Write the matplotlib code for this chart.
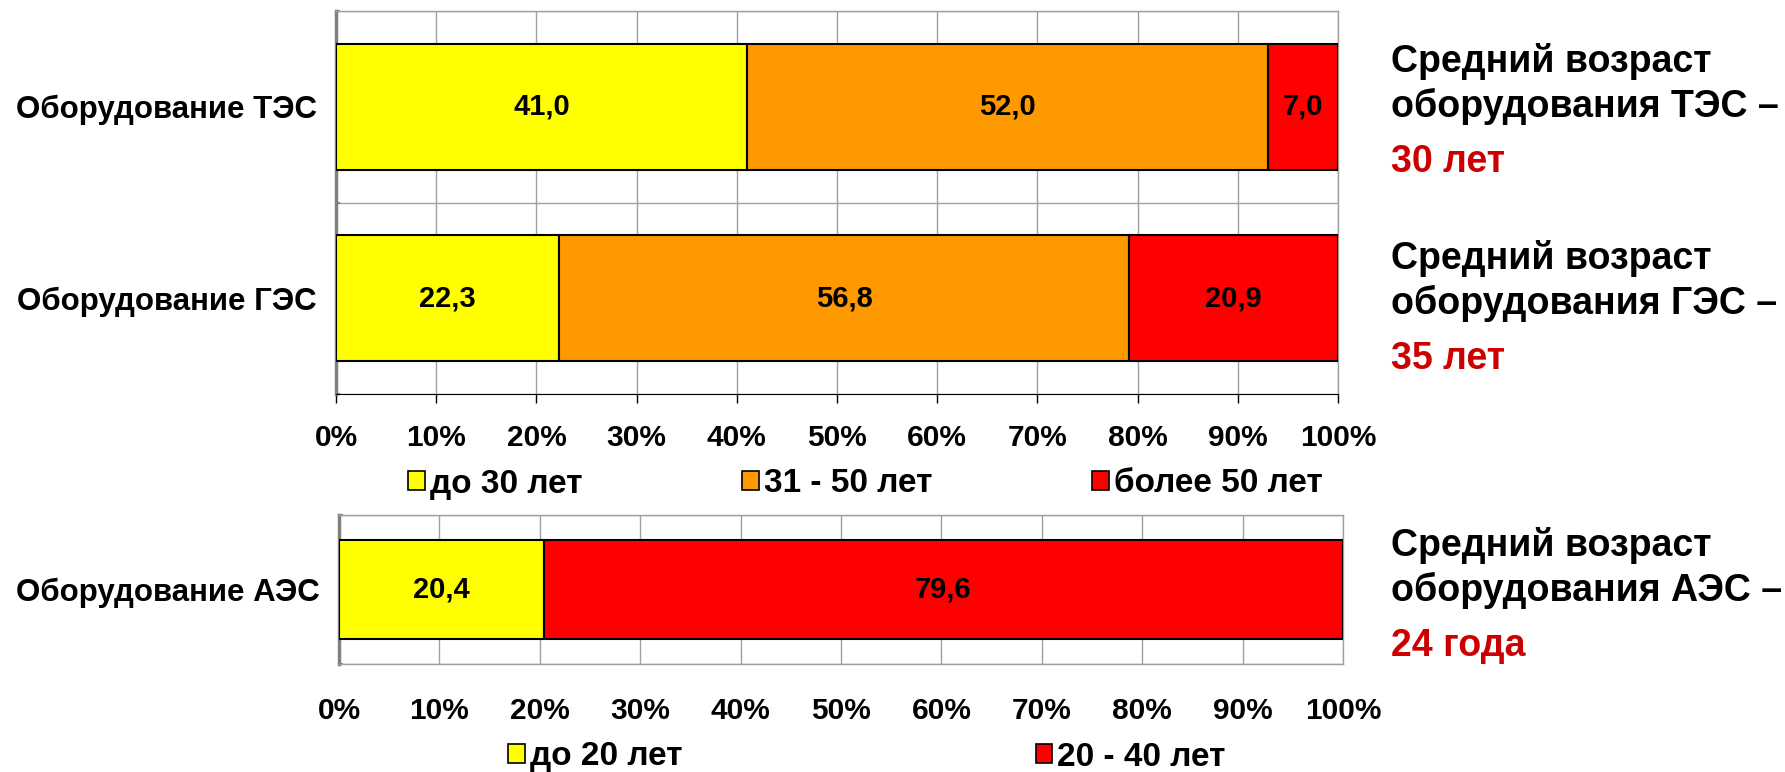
import matplotlib.pyplot as plt
from matplotlib.patches import Patch

plt.rcParams['font.family'] = ['Liberation Sans', 'DejaVu Sans']
plt.rcParams['font.weight'] = 'bold'

# ТЭС / ГЭС: доля оборудования по возрасту, %
plants_top = ['Оборудование ТЭС', 'Оборудование ГЭС']
groups_top = ['до 30 лет', '31 - 50 лет', 'более 50 лет']
young_top = [41.0, 22.3]
middle_top = [52.0, 56.8]
old_top = [7.0, 20.9]
avg_top = ['30 лет', '35 лет']

# АЭС
plants_bottom = ['Оборудование АЭС']
groups_bottom = ['до 20 лет', '20 - 40 лет']
young_bottom = [20.4]
old_bottom = [79.6]
avg_bottom = ['24 года']

ticks = list(range(0, 101, 10))
tick_labels = [f'{t}%' for t in ticks]

yellow, orange, red = '#FFFF00', '#FF9900', '#FF0000'
grey = '#808080'
W, H = 1785, 772

fig = plt.figure(figsize=(W / 100, H / 100), dpi=100)


def fmt(v):
    return f'{v:.1f}'.replace('.', ',')


def stacked(ax, names, series, colors):
    pos = list(range(len(names)))
    left = [0] * len(names)
    for vals, c in zip(series, colors):
        b = ax.barh(pos, vals, left=left, height=0.66, color=c,
                    edgecolor='black', linewidth=1.5, zorder=3)
        ax.bar_label(b, labels=[fmt(v) for v in vals], label_type='center',
                     fontsize=21, fontweight='bold', color='black')
        left = [l + v for l, v in zip(left, vals)]
    ax.set_xlim(0, 100)
    ax.set_ylim(len(names) - 0.5, -0.5)
    ax.set_xticks(ticks)
    ax.set_xticklabels(tick_labels, fontsize=21.5, fontweight='bold')
    ax.set_yticks(pos)
    ax.set_yticklabels(names, fontsize=22.5, fontweight='bold')
    ax.set_yticks([p - 0.5 for p in pos] + [len(names) - 0.5], minor=True)
    ax.tick_params(axis='y', which='major', length=0, pad=14)
    ax.tick_params(axis='y', which='minor', length=3, direction='in',
                   color=grey, width=1.5)
    ax.grid(axis='x', color='#A0A0A0', linewidth=1, zorder=0)
    ax.grid(axis='y', which='minor', color='#A0A0A0', linewidth=1, zorder=0)
    ax.spines['left'].set_color(grey)
    ax.spines['left'].set_linewidth(2.5)
    for s in ('top', 'right'):
        ax.spines[s].set_color('#A0A0A0')
        ax.spines[s].set_linewidth(1)


def add_legend(ax, colors, groups, x, y, spacing):
    ax.legend(handles=[Patch(facecolor=c, edgecolor='black', linewidth=1.2, label=g)
                       for c, g in zip(colors, groups)],
              ncol=len(groups), loc='center left', bbox_to_anchor=(x / W, 1 - y / H),
              bbox_transform=fig.transFigure, frameon=False, fontsize=24,
              handlelength=0.5, handleheight=0.5, handletextpad=0.15,
              columnspacing=spacing, borderpad=0, borderaxespad=0)


# верхняя диаграмма
ax1 = fig.add_axes([336 / W, 1 - 394 / H, (1338 - 336) / W, (394 - 11) / H])
stacked(ax1, plants_top, [young_top, middle_top, old_top], [yellow, orange, red])
ax1.tick_params(axis='x', length=6.5, width=1, color='black', pad=15)
ax1.spines['bottom'].set_color('black')
add_legend(ax1, [yellow, orange, red], groups_top, 408, 484, 4.8)

# нижняя диаграмма
ax2 = fig.add_axes([339 / W, 1 - 664 / H, (1343 - 339) / W, (664 - 515) / H])
stacked(ax2, plants_bottom, [young_bottom, old_bottom], [yellow, red])
ax2.tick_params(axis='x', length=0, pad=24)
ax2.spines['bottom'].set_color('#A0A0A0')
ax2.spines['bottom'].set_linewidth(1)
add_legend(ax2, [yellow, red], groups_bottom, 508, 757, 10.6)

# подписи среднего возраста справа
blocks = [('ТЭС', avg_top[0], 72), ('ГЭС', avg_top[1], 269), ('АЭС', avg_bottom[0], 556)]
for name, age, base in blocks:
    fig.text(1391 / W, 1 - base / H, 'Средний возраст', fontsize=27,
             fontweight='bold', va='baseline')
    fig.text(1391 / W, 1 - (base + 45) / H, f'оборудования {name} –', fontsize=27,
             fontweight='bold', va='baseline')
    fig.text(1391 / W, 1 - (base + 100) / H, age, fontsize=27,
             fontweight='bold', color='#CC0000', va='baseline')

fig.savefig('out.png', dpi=100)
